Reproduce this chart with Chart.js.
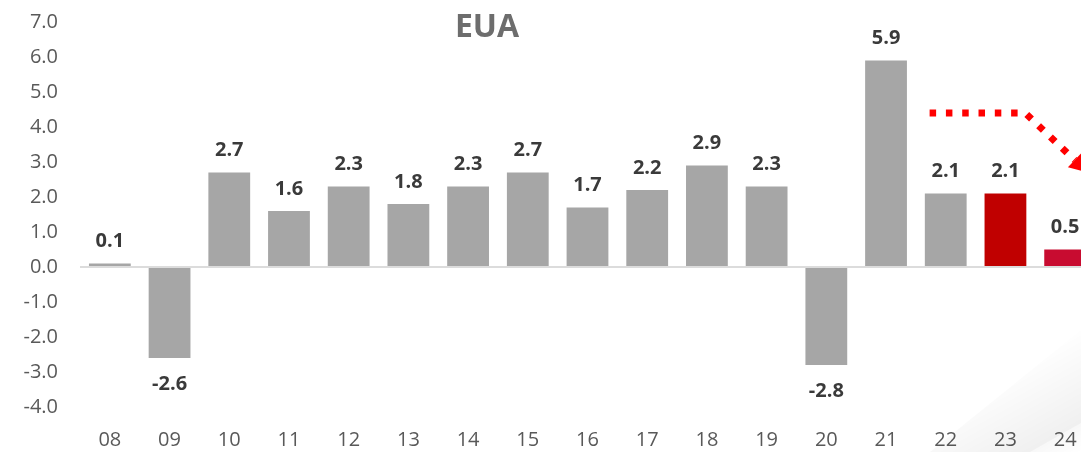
<!DOCTYPE html>
<html>
<head>
<meta charset="utf-8">
<title>EUA</title>
<script src="https://cdn.jsdelivr.net/npm/chart.js@4.4.1/dist/chart.umd.min.js"></script>
<style>
  html, body { margin: 0; padding: 0; background: #ffffff; overflow: hidden; }
  #wrap { position: relative; width: 1081px; height: 452px; overflow: hidden; }
  #c { position: absolute; left: 0; top: 0; }
  /* soft shading of the curled lower-right corner */
  #curl {
    position: absolute; left: 0; top: 0; width: 1081px; height: 452px; pointer-events: none;
    clip-path: polygon(1081px 330px, 1081px 423px, 1030px 452px, 930px 452px);
    background: linear-gradient(151deg, rgba(0,0,0,0) 88%, rgba(0,0,0,0.07) 99%, rgba(0,0,0,0.09) 100%);
  }
  #corner {
    position: absolute; left: 0; top: 0; width: 1081px; height: 452px; pointer-events: none;
    clip-path: polygon(1081px 423px, 1081px 452px, 1030px 452px);
    background: linear-gradient(151deg, rgba(0,0,0,0.03) 97%, rgba(0,0,0,0) 100%);
  }
</style>
</head>
<body>
<div id="wrap">
  <canvas id="c" width="1100" height="452" style="width:1100px;height:452px"></canvas>
  <div id="curl"></div>
  <div id="corner"></div>
</div>
<script>
// Annual growth, %, by year (two-digit years)
const years = ['08','09','10','11','12','13','14','15','16','17','18','19','20','21','22','23','24'];
const growth = [0.1, -2.6, 2.7, 1.6, 2.3, 1.8, 2.3, 2.7, 1.7, 2.2, 2.9, 2.3, -2.8, 5.9, 2.1, 2.1, 0.5];
const barColors = ['#a6a6a6','#a6a6a6','#a6a6a6','#a6a6a6','#a6a6a6','#a6a6a6','#a6a6a6','#a6a6a6',
                   '#a6a6a6','#a6a6a6','#a6a6a6','#a6a6a6','#a6a6a6','#a6a6a6','#a6a6a6','#c00000','#c80c30'];
const yTicks = [7, 6, 5, 4, 3, 2, 1, 0, -1, -2, -3, -4];
const chartTitle = 'EUA';
// Dotted trend arrow, in (category index, value) units
const trendArrow = [[13.73, 4.4], [15.33, 4.4], [16.38, 2.7]];

const FONT = "'Open Sans', 'Liberation Sans', sans-serif";

const valueLabels = {
  id: 'valueLabels',
  afterDatasetsDraw(chart) {
    const ctx = chart.ctx;
    const meta = chart.getDatasetMeta(0);
    ctx.save();
    ctx.font = `bold 20px ${FONT}`;
    ctx.fillStyle = '#3a3a3a';
    ctx.textAlign = 'center';
    ctx.textBaseline = 'middle';
    meta.data.forEach((bar, i) => {
      const v = growth[i];
      const y = v >= 0 ? bar.y - 22 : bar.y + 26;
      ctx.fillText(v.toFixed(1), bar.x, y);
    });
    ctx.restore();
  }
};

const titleText = {
  id: 'titleText',
  afterDraw(chart) {
    const ctx = chart.ctx;
    ctx.save();
    ctx.font = `bold 32px ${FONT}`;
    ctx.fillStyle = '#6d6d6d';
    ctx.textAlign = 'center';
    ctx.textBaseline = 'middle';
    ctx.fillText(chartTitle, 487, 28);
    ctx.restore();
  }
};

const arrowPlugin = {
  id: 'arrowPlugin',
  afterDraw(chart) {
    const xs = chart.scales.x, ys = chart.scales.y;
    const pts = trendArrow.map(([i, v]) => {
      const x0 = xs.getPixelForValue(0), x1 = xs.getPixelForValue(1);
      return [x0 + (x1 - x0) * i, ys.getPixelForValue(v)];
    });
    const ctx = chart.ctx;
    ctx.save();
    ctx.strokeStyle = '#ff0000';
    ctx.fillStyle = '#ff0000';
    ctx.lineWidth = 7;
    ctx.lineCap = 'butt';
    ctx.setLineDash([6.5, 9.8]);
    const last = pts[pts.length - 1], prev = pts[pts.length - 2];
    const ang = Math.atan2(last[1] - prev[1], last[0] - prev[0]);
    const headLen = 18, headW = 10;
    const baseX = last[0] - Math.cos(ang) * headLen, baseY = last[1] - Math.sin(ang) * headLen;
    ctx.beginPath();
    ctx.moveTo(pts[0][0], pts[0][1]);
    for (let k = 1; k < pts.length - 1; k++) ctx.lineTo(pts[k][0], pts[k][1]);
    ctx.lineTo(baseX, baseY);
    ctx.stroke();
    ctx.setLineDash([]);
    ctx.beginPath();
    ctx.moveTo(last[0], last[1]);
    ctx.lineTo(baseX + Math.sin(ang) * headW, baseY - Math.cos(ang) * headW);
    ctx.lineTo(baseX - Math.sin(ang) * headW, baseY + Math.cos(ang) * headW);
    ctx.closePath();
    ctx.fill();
    ctx.restore();
  }
};

function build() {
  new Chart(document.getElementById('c'), {
    type: 'bar',
    data: {
      labels: years,
      datasets: [{
        data: growth,
        backgroundColor: barColors,
        borderWidth: 0,
        barPercentage: 0.70,
        categoryPercentage: 1.0
      }]
    },
    options: {
      responsive: false,
      animation: false,
      devicePixelRatio: 1,
      layout: { padding: { top: 22, right: 5, left: 0, bottom: 0 } },
      plugins: { legend: { display: false }, tooltip: { enabled: false }, title: { display: false } },
      scales: {
        x: {
          offset: true,
          grid: { display: false, drawTicks: false },
          border: { display: false },
          ticks: { color: '#595959', font: { family: FONT, size: 20 }, padding: 21, maxRotation: 0, autoSkip: false },
          afterFit(scale) { scale.height = 45; }
        },
        y: {
          min: -4, max: 7,
          afterBuildTicks(scale) { scale.ticks = yTicks.map(v => ({ value: v })); },
          grid: {
            drawTicks: false,
            lineWidth: 2,
            color: ctx => (ctx.tick && ctx.tick.value === 0 ? '#dcdcdc' : 'rgba(0,0,0,0)')
          },
          border: { display: false },
          ticks: {
            color: '#595959', font: { family: FONT, size: 20 }, padding: 22,
            callback: v => Number(v).toFixed(1)
          },
          afterFit(scale) {
            scale.width = 80;
            // labels only need room sideways; keep the plot edges where the layout puts them
            scale.paddingTop = 0;
            scale.paddingBottom = 0;
          }
        }
      }
    },
    plugins: [valueLabels, titleText, arrowPlugin]
  });
}

if (document.fonts && document.fonts.load) {
  Promise.all([
    document.fonts.load(`20px ${FONT}`),
    document.fonts.load(`bold 20px ${FONT}`)
  ]).then(build, build);
} else {
  build();
}
</script>
</body>
</html>
